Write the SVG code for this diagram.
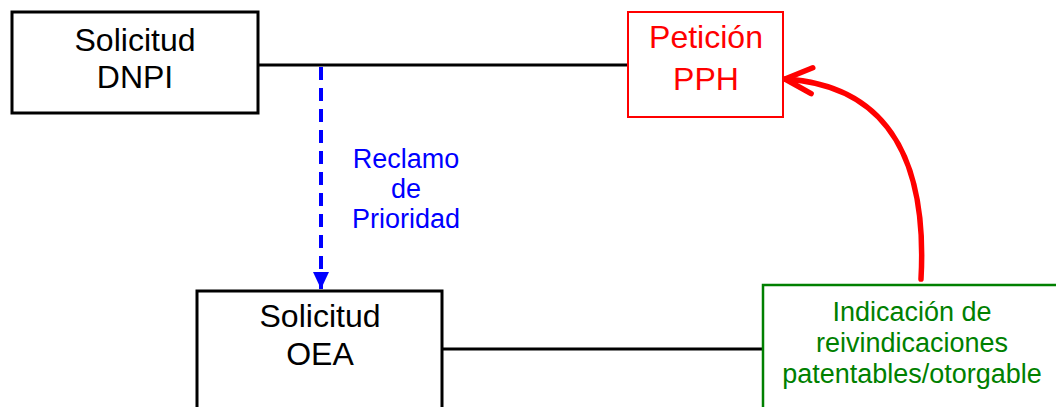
<svg xmlns="http://www.w3.org/2000/svg" width="1056" height="407" viewBox="0 0 1056 407">
  <style>
    text { font-family: "Liberation Sans", Arial, sans-serif; text-anchor: middle; }
    .big { font-size: 32px; fill: #000; }
    .box { fill: #fff; stroke: #000; stroke-width: 3; }
    .red { font-size: 32px; fill: #FF0000; }
    .blue { font-size: 27px; fill: #0000FF; }
    .green { font-size: 27px; fill: #008000; }
  </style>
  <defs>
    <marker id="blueTri" markerUnits="userSpaceOnUse" markerWidth="20" markerHeight="20" viewBox="-18 -10 20 20" refX="0" refY="0" orient="auto">
      <path d="M -17,-8 L 0,0 L -17,8 Z" fill="#0000FF"/>
    </marker>
    <marker id="redOpen" markerUnits="userSpaceOnUse" markerWidth="40" markerHeight="40" viewBox="-34 -20 40 40" refX="0" refY="0" orient="auto">
      <path d="M -27,-13 L 0,0 L -27,13" fill="none" stroke="#FF0000" stroke-width="5.5" stroke-linecap="round" stroke-linejoin="round"/>
    </marker>
  </defs>

  <g id="connectors">
    <line x1="258" y1="65" x2="628" y2="65" stroke="#000" stroke-width="3"/>
    <line x1="442" y1="349" x2="763" y2="349" stroke="#000" stroke-width="3"/>
    <line x1="321" y1="67" x2="321" y2="289" stroke="#0000FF" stroke-width="4" stroke-dasharray="13 8" marker-end="url(#blueTri)"/>
    <path d="M 921,279 C 928,150 880,85 785,79" fill="none" stroke="#FF0000" stroke-width="5.5" stroke-linecap="round" marker-end="url(#redOpen)"/>
    <g id="label-reclamo">
      <text class="blue" x="406" y="168">Reclamo</text>
      <text class="blue" x="406" y="198">de</text>
      <text class="blue" x="406" y="228">Prioridad</text>
    </g>
  </g>

  <g id="node-dnpi">
    <rect class="box" x="12" y="12" width="246" height="101"/>
    <text class="big" x="135" y="51">Solicitud</text>
    <text class="big" x="135" y="88">DNPI</text>
  </g>

  <g id="node-pph">
    <rect x="628" y="12" width="155" height="105" fill="#fff" stroke="#FF0000" stroke-width="2"/>
    <text class="red" x="706" y="48">Petición</text>
    <text class="red" x="706" y="90">PPH</text>
  </g>

  <g id="node-oea">
    <rect class="box" x="197" y="291" width="245" height="130"/>
    <text class="big" x="320" y="327">Solicitud</text>
    <text class="big" x="320" y="365">OEA</text>
  </g>

  <g id="node-indicacion">
    <rect x="763" y="285" width="310" height="140" fill="#fff" stroke="#008000" stroke-width="2.5"/>
    <text class="green" x="912" y="321">Indicación de</text>
    <text class="green" x="912" y="352">reivindicaciones</text>
    <text class="green" x="912" y="383">patentables/otorgable</text>
  </g>
</svg>
